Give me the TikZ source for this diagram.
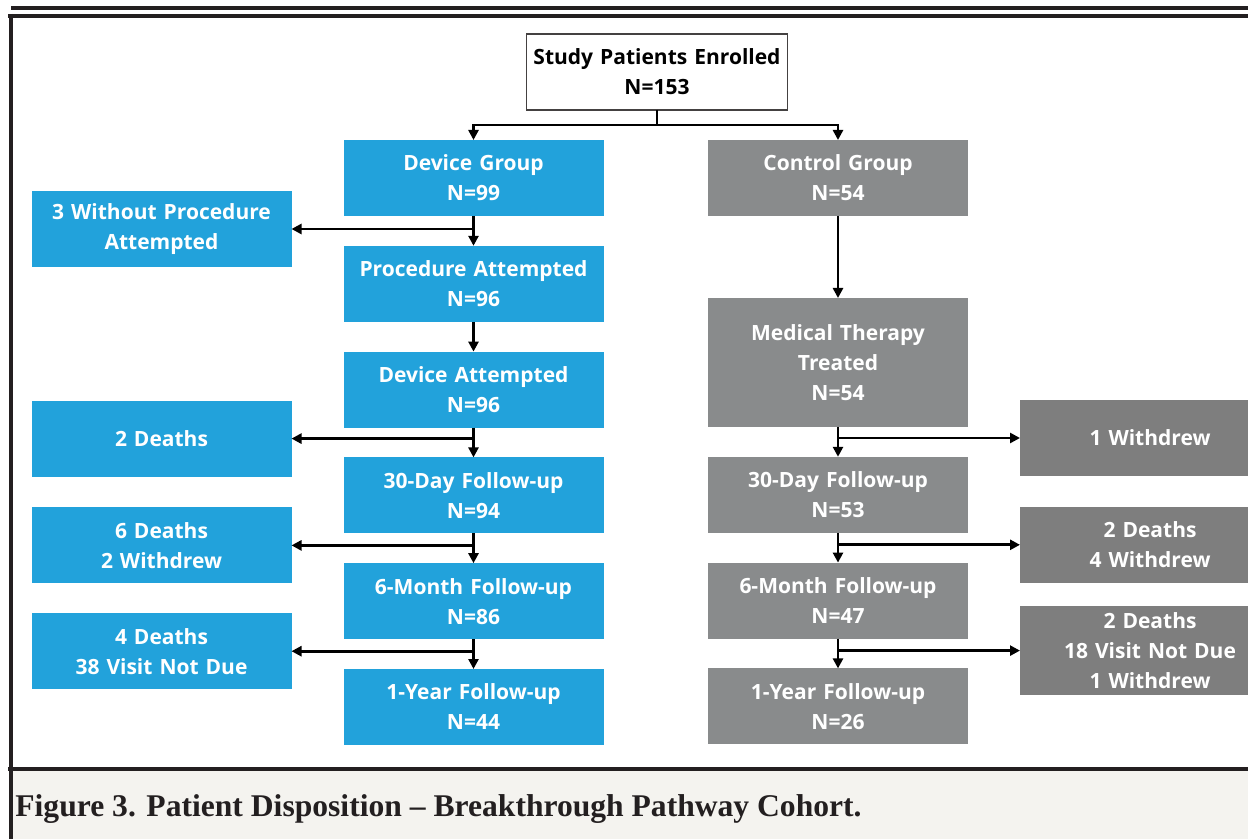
\documentclass[tikz,border=0pt]{standalone}
\usepackage{fontspec}
\setsansfont{Open Sans}
\newfontfamily\capfont{Liberation Serif}
\usetikzlibrary{arrows.meta, positioning, calc}
\definecolor{devblue}{RGB}{34,162,219}
\definecolor{ctrlgray}{RGB}{137,139,140}
\definecolor{sidegray}{RGB}{126,126,126}
\definecolor{rulebk}{RGB}{35,31,32}
\definecolor{capbg}{RGB}{244,243,239}
\tikzset{
  box/.style={rectangle, minimum width=130pt, minimum height=38pt,
    text width=126pt, inner sep=0pt, outer sep=0pt, align=center, text=white,
    font=\sffamily\bfseries\fontsize{10.5}{15}\selectfont},
  devbox/.style={box, fill=devblue},
  ctrlbox/.style={box, fill=ctrlgray},
  sidebox/.style={box, fill=sidegray},
  startbox/.style={box, fill=white, draw=rulebk!85, line width=0.8pt, text=black},
  arr/.style={-{Triangle[length=5pt, width=5pt]}, line width=1.4pt, black},
  frameline/.style={rulebk, line width=2pt},
}
\begin{document}
\begin{tikzpicture}[x=0.5pt, y=-0.5pt, node distance=14.9pt]
\useasboundingbox (0,0) rectangle (1248,839);

% frame and caption band
\fill[capbg] (12.7,771) rectangle (1248,839);
\draw[frameline] (11,8.5) -- (1248,8.5);
\draw[frameline] (8,15.8) -- (1248,15.8);
\draw[frameline] (10.8,14) -- (10.8,839);
\draw[frameline] (8,769) -- (1248,769);

\node[startbox, minimum width=130.5pt] (enroll) at (657,72) {Study Patients Enrolled\\N=153};

% device arm
\node[devbox] (dev) at (473.5,178) {Device Group\\N=99};
\node[devbox, below=of dev] (proc) {Procedure Attempted\\N=96};
\node[devbox, below=of proc] (devatt) {Device Attempted\\N=96};
\node[devbox, below=of devatt] (dfu30) {30-Day Follow-up\\N=94};
\node[devbox, below=of dfu30] (dfu6) {6-Month Follow-up\\N=86};
\node[devbox, below=of dfu6] (dfu1) {1-Year Follow-up\\N=44};

% control arm
\node[ctrlbox] (ctrl) at (838,178) {Control Group\\N=54};
\node[ctrlbox, minimum height=64.5pt, below=41pt of ctrl] (med) {Medical Therapy\\Treated\\N=54};
\node[ctrlbox, below=of med] (cfu30) {30-Day Follow-up\\N=53};
\node[ctrlbox, below=of cfu30] (cfu6) {6-Month Follow-up\\N=47};
\node[ctrlbox, below=of cfu6] (cfu1) {1-Year Follow-up\\N=26};

% branch points
\coordinate (split) at ($(enroll.south)+(0,-7.5pt)$);
\coordinate (bdev) at ($(dev.south)+(0,-6.5pt)$);
\coordinate (bdatt) at ($(devatt.south)+(0,-5.5pt)$);
\coordinate (bd30) at ($(dfu30.south)+(0,-6pt)$);
\coordinate (bd6) at ($(dfu6.south)+(0,-6pt)$);
\coordinate (bmed) at ($(med.south)+(0,-5.5pt)$);
\coordinate (bc30) at ($(cfu30.south)+(0,-6pt)$);
\coordinate (bc6) at ($(cfu6.south)+(0,-6pt)$);

% losses
\node[devbox, anchor=east] (noproc) at ($(bdev -| proc.west)+(-26pt,0)$) {3 Without Procedure\\Attempted};
\node[devbox, anchor=east] (dlost30) at ($(bdatt -| proc.west)+(-26pt,0)$) {2 Deaths};
\node[devbox, anchor=east] (dlost6) at ($(bd30 -| proc.west)+(-26pt,0)$) {6 Deaths\\2 Withdrew};
\node[devbox, anchor=east] (dlost1) at ($(bd6 -| proc.west)+(-26pt,0)$) {4 Deaths\\38 Visit Not Due};
\node[sidebox, anchor=west] (clost30) at ($(bmed -| med.east)+(26pt,0)$) {1 Withdrew};
\node[sidebox, anchor=west] (clost6) at ($(bc30 -| med.east)+(26pt,0)$) {2 Deaths\\4 Withdrew};
\node[sidebox, anchor=west, minimum height=44.5pt] (clost1) at ($(bc6 -| med.east)+(26pt,0)$) {2 Deaths\\18 Visit Not Due\\1 Withdrew};

\draw[arr] (enroll.south) -- (split) -| (dev.north);
\draw[arr] (split) -| (ctrl.north);

\draw[arr] (dev) -- (proc);
\draw[arr] (bdev) -- (noproc);
\draw[arr] (proc) -- (devatt);
\draw[arr] (devatt) -- (dfu30);
\draw[arr] (bdatt) -- (dlost30);
\draw[arr] (dfu30) -- (dfu6);
\draw[arr] (bd30) -- (dlost6);
\draw[arr] (dfu6) -- (dfu1);
\draw[arr] (bd6) -- (dlost1);

\draw[arr] (ctrl) -- (med);
\draw[arr] (med) -- (cfu30);
\draw[arr] (bmed) -- (clost30);
\draw[arr] (cfu30) -- (cfu6);
\draw[arr] (bc30) -- (clost6);
\draw[arr] (cfu6) -- (cfu1);
\draw[arr] (bc6) -- (clost1);

\node[anchor=base west, inner sep=0pt, text=rulebk,
  font=\capfont\bfseries\fontsize{15.8}{18}\selectfont] (caption) at (15,816)
  {Figure 3. Patient Disposition – Breakthrough Pathway Cohort.};
\end{tikzpicture}
\end{document}
